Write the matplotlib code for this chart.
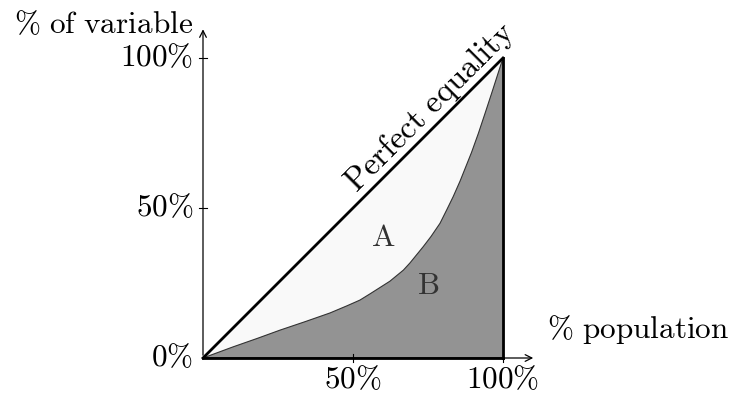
import matplotlib.pyplot as plt

plt.rcParams["mathtext.fontset"] = "cm"

# Lorenz curve (% population, % of variable)
pop = [0, 10, 18, 25.7, 34, 42.3, 48, 52.3, 55.7, 59, 62.3, 66.8, 69, 73.4, 76, 79,
       81.3, 83.4, 85.7, 87.3, 89.5, 91.8, 94, 96.2, 100]
share = [0, 3.7, 6.5, 9.3, 12.1, 15, 17.4, 19.3, 21.4, 23.5, 25.6, 29.3, 31.7, 37.1, 40.5, 44.9,
         49.5, 53.8, 59, 63, 68.5, 74.9, 81.5, 88.2, 100]
ticks = [50, 100]
ytick_labels = ["0%", "50%", "100%"]

fig = plt.figure(figsize=(7.3, 3.94), dpi=100)
ax = fig.add_axes([0, 0, 1, 1])
ax.set_xlim(-203 / 3, 527 / 3)
ax.set_ylim(-12, 358 / 3)
ax.axis("off")

# regions
ax.fill_between([0, 100], [0, 100], color="#f9f9f9", zorder=1)
ax.fill_between(pop, share, color="#939393", zorder=2)
ax.plot(pop, share, color="#333333", lw=0.8, zorder=3)

# perfect equality line and right edge
ax.plot([0, 100], [0, 100], color="black", lw=2, zorder=4)
ax.plot([100, 100], [0, 100], color="black", lw=2, zorder=4)
ax.plot([0, 100], [0, 0], color="black", lw=2, zorder=4)

# axes with arrows
arrow = dict(arrowstyle="->", color="black", lw=0.9, mutation_scale=12)
ax.annotate("", xy=(111, 0), xytext=(0, 0), arrowprops=arrow, zorder=5)
ax.annotate("", xy=(0, 110.5), xytext=(0, 0), arrowprops=arrow, zorder=5)
for t in ticks:
    ax.plot([t, t], [-1.2, 1.2], color="black", lw=0.8, zorder=5)
    ax.plot([-1.2, 1.2], [t, t], color="black", lw=0.8, zorder=5)

fs = 22.5
for v, lab in zip([0] + ticks, ytick_labels):
    ax.text(-3.3, v, "$" + lab.replace("%", r"\%") + "$", ha="right", va="center", fontsize=fs)
for t in ticks:
    ax.text(t, -2.2, "$" + str(t) + r"\%$", ha="center", va="top", fontsize=fs)

ax.text(-3.3, 111, r"$\%\ \mathrm{of\ variable}$", ha="right", va="center", fontsize=fs)
ax.text(114.5, 9.5, r"$\%\ \mathrm{population}$", ha="left", va="center", fontsize=fs)

ax.text(79.5, 79.5, r"$\mathrm{Perfect\ equality}$", rotation=45, rotation_mode="anchor",
        ha="center", va="bottom", fontsize=23.5)
ax.text(60, 40, r"$\mathrm{A}$", ha="center", va="center", fontsize=fs, color="#333333", zorder=6)
ax.text(75, 24.3, r"$\mathrm{B}$", ha="center", va="center", fontsize=fs, color="#333333", zorder=6)

fig.savefig("out.png", dpi=100)
